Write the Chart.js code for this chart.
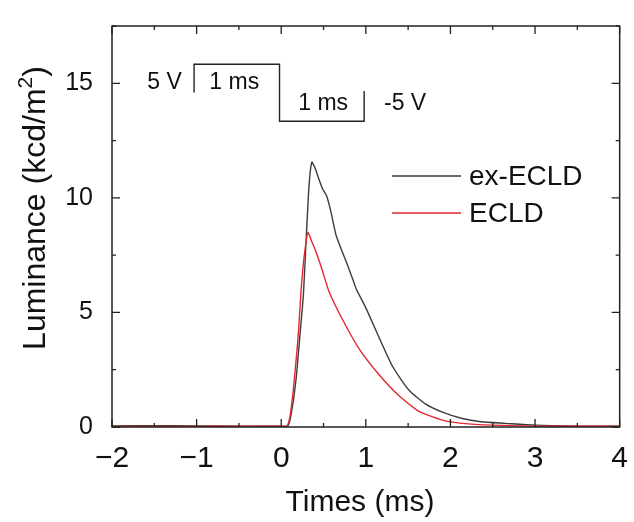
<!DOCTYPE html>
<html>
<head>
<meta charset="utf-8">
<script src="https://cdn.jsdelivr.net/npm/chart.js@4"></script>
<style>
  html, body { margin: 0; padding: 0; background: #fff; }
  #wrap { width: 634px; height: 522px; }
</style>
</head>
<body>
<div id="wrap"><canvas id="mychart" width="634" height="522"></canvas></div>
<script>
// time axis (ms) and luminance (kcd/m2)
const exTimes = [-2.0, -1.5, -1.0, -0.5, 0.0, 0.08, 0.12, 0.173, 0.224, 0.263, 0.299, 0.33, 0.362, 0.40, 0.449, 0.488, 0.535, 0.587, 0.646, 0.705, 0.78, 0.84, 0.89, 1.0, 1.157, 1.315, 1.511, 1.708, 1.905, 2.14, 2.36, 2.65, 3.0, 3.5, 4.0];
const exLum   = [0.05, 0.06, 0.05, 0.04, 0.03, 0.05, 0.6, 2.0, 4.12, 5.82, 8.51, 10.6, 11.56, 11.3, 10.78, 10.4, 10.1, 9.4, 8.4, 7.8, 7.1, 6.5, 6.0, 5.2, 3.9, 2.65, 1.6, 1.0, 0.65, 0.37, 0.23, 0.16, 0.08, 0.04, 0.03];

const ecTimes = [-2.0, -1.0, -0.5, 0.0, 0.07, 0.11, 0.153, 0.204, 0.232, 0.27, 0.315, 0.36, 0.41, 0.488, 0.567, 0.724, 0.921, 1.157, 1.393, 1.629, 1.905, 2.14, 2.5, 3.0, 4.0];
const ecLum   = [0.02, 0.02, 0.04, 0.04, 0.05, 0.6, 2.0, 4.12, 5.82, 7.4, 8.49, 8.1, 7.66, 6.81, 5.89, 4.69, 3.41, 2.28, 1.36, 0.68, 0.3, 0.16, 0.08, 0.04, 0.03];

// drive pulse sketch (5 V for 1 ms, -5 V for 1 ms)
const pulseX = [-1.03, -1.03, -0.02, -0.02, 0.98, 0.98];
const pulseY = [14.6, 15.83, 15.83, 13.34, 13.34, 14.66];

const xTicks = [-2, -1, 0, 1, 2, 3, 4];
const yTicks = [0, 5, 10, 15];

const legendNames = ['ex-ECLD', 'ECLD'];
const seriesColors = ['#3c3c3c', '#e3262e'];

const toPts = (xs, ys) => xs.map((x, i) => ({ x: x, y: ys[i] }));

const FONT = '"Liberation Sans", Arial, sans-serif';

// frame, inward ticks, legend, labels
const decor = {
  id: 'decor',
  afterDraw(chart) {
    const c = chart.ctx, a = chart.chartArea;
    const xs = chart.scales.x, ys = chart.scales.y;
    c.save();
    c.strokeStyle = '#222';
    c.lineWidth = 1.5;
    c.strokeRect(a.left, a.top, a.right - a.left, a.bottom - a.top);
    c.lineWidth = 1.3;
    c.beginPath();
    for (let v = -2; v <= 4.001; v += 0.5) {
      const px = xs.getPixelForValue(v);
      const len = Math.abs(v % 1) < 1e-6 ? 8 : 4;
      c.moveTo(px, a.bottom); c.lineTo(px, a.bottom - len);
      c.moveTo(px, a.top); c.lineTo(px, a.top + len);
    }
    for (let v = 0; v <= 17.5; v += 2.5) {
      const py = ys.getPixelForValue(v);
      const len = Math.abs(v % 5) < 1e-6 ? 8 : 4;
      c.moveTo(a.left, py); c.lineTo(a.left + len, py);
      c.moveTo(a.right, py); c.lineTo(a.right - len, py);
    }
    c.stroke();

    // legend
    c.font = '28px ' + FONT;
    c.textBaseline = 'middle';
    c.textAlign = 'left';
    legendNames.forEach((n, i) => {
      const y = a.top + 150 + i * 37;
      c.strokeStyle = seriesColors[i];
      c.lineWidth = 1.3;
      c.beginPath(); c.moveTo(a.left + 280, y); c.lineTo(a.left + 349, y); c.stroke();
      c.fillStyle = '#111';
      c.fillText(n, a.left + 357, y + 1);
    });

    // pulse labels
    c.font = '23px ' + FONT;
    c.textAlign = 'center';
    c.fillStyle = '#111';
    const lab = (t, x, y) => c.fillText(t, xs.getPixelForValue(x), ys.getPixelForValue(y));
    lab('5 V', -1.38, 15.04);
    lab('1 ms', -0.555, 15.04);
    lab('1 ms', 0.496, 14.11);
    lab('-5 V', 1.464, 14.11);

    // axis titles
    c.font = '30px ' + FONT;
    c.textBaseline = 'alphabetic';
    c.fillText('Times (ms)', 360, 511);

    c.translate(45, 208);
    c.rotate(-Math.PI / 2);
    c.font = '32px ' + FONT;
    const p1 = 'Luminance (kcd/m', p2 = '2', p3 = ')';
    const w1 = c.measureText(p1).width;
    c.font = '21px ' + FONT;
    const w2 = c.measureText(p2).width;
    c.font = '32px ' + FONT;
    const w3 = c.measureText(p3).width;
    let sx = -(w1 + w2 + w3) / 2;
    c.textAlign = 'left';
    c.fillText(p1, sx, 0);
    c.font = '21px ' + FONT;
    c.fillText(p2, sx + w1, -13);
    c.font = '32px ' + FONT;
    c.fillText(p3, sx + w1 + w2, 0);
    c.restore();
  }
};

new Chart(document.getElementById('mychart'), {
  type: 'line',
  data: {
    datasets: [{
      label: legendNames[0],
      data: toPts(exTimes, exLum),
      borderColor: seriesColors[0],
      borderWidth: 1.4,
      pointRadius: 0,
      tension: 0.2,
      order: 2
    }, {
      label: legendNames[1],
      data: toPts(ecTimes, ecLum),
      borderColor: seriesColors[1],
      borderWidth: 1.4,
      pointRadius: 0,
      tension: 0.2,
      order: 1
    }, {
      label: 'pulse',
      data: toPts(pulseX, pulseY),
      borderColor: '#222',
      borderWidth: 1.4,
      pointRadius: 0,
      tension: 0,
      order: 3
    }]
  },
  options: {
    responsive: false,
    animation: false,
    layout: { padding: { top: 14, right: 13, left: 0, bottom: 0 } },
    scales: {
      x: {
        type: 'linear',
        min: -2,
        max: 4,
        afterBuildTicks: s => { s.ticks = xTicks.map(v => ({ value: v })); },
        afterFit: s => { s.height = 95; },
        grid: { display: false },
        border: { display: false },
        ticks: {
          color: '#111',
          padding: 6,
          font: { family: FONT, size: 30 },
          callback: v => String(v).replace('-', '\u2212')
        }
      },
      y: {
        min: 0,
        max: 17.5,
        afterBuildTicks: s => { s.ticks = yTicks.map(v => ({ value: v })); },
        afterFit: s => { s.width = 112; },
        grid: { display: false },
        border: { display: false },
        ticks: {
          color: '#111',
          padding: 11,
          font: { family: FONT, size: 25 }
        }
      }
    },
    plugins: {
      legend: { display: false },
      tooltip: { enabled: false }
    }
  },
  plugins: [decor]
});
</script>
</body>
</html>
